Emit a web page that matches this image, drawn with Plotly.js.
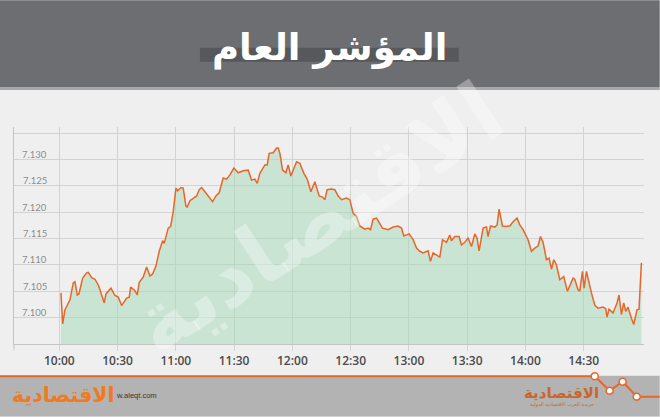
<!DOCTYPE html>
<html><head><meta charset="utf-8">
<script src="https://cdn.plot.ly/plotly-3.0.1.min.js"></script>
<style>html,body{margin:0;padding:0;background:#efefef;}#chart{width:660px;height:417px;}</style>
</head><body><div id="chart"></div>
<script>
// minutes after 10:00
const timeMinutes = [
0.87,1.75,2.93,5.51,7.20,8.08,9.26,10.14,12.04,14.10,
14.92,16.67,18.37,20.07,20.94,23.16,24.03,26.60,28.66,30.36,
32.11,34.68,36.02,36.74,38.95,40.14,41.17,43.22,44.97,46.67,
48.06,49.76,51.46,53.21,54.03,56.09,57.33,58.66,60.05,60.93,
62.62,63.81,65.20,65.87,67.26,68.95,70.70,72.04,
73.28,74.98,77.19,78.94,80.64,82.33,84.39,86.14,87.84,89.90,
92.11,94.68,97.26,99.01,100.70,101.89,103.28,105.85,107.03,108.06,
110.12,111.87,112.69,113.57,114.96,116.65,117.84,119.23,120.41,122.16,
123.86,125.92,127.62,129.52,131.58,133.79,135.54,136.73,137.91,140.17,
141.87,143.57,145.32,147.89,149.59,151.29,153.04,154.74,157.31,159.01,
160.24,161.58,163.33,165.03,166.42,169.30,171.87,174.44,176.19,
177.38,178.77,180.11,182.16,183.91,185.61,187.31,189.88,191.11,192.45,
194.20,195.90,197.29,199.35,201.05,201.92,203.62,205.83,207.07,208.77,
210.47,212.22,213.92,215.10,216.13,218.19,219.94,220.76,222.00,224.21,
225.39,226.42,228.17,229.87,231.93,233.62,235.68,237.07,238.77,241.34,
243.09,244.79,246.49,247.72,249.06,250.81,252.15,253.38,254.57,255.96,
257.66,259.71,261.62,264.50,265.38,267.07,267.95,269.34,270.16,271.40,
273.97,275.67,277.37,279.94,281.33,281.99,283.02,285.08,287.14,288.17,
289.40,290.59,291.62,292.80,294.55,295.73,297.43,298.46,299.69
];
const indexValues = [
7.1047,7.0988,7.1015,7.1034,7.1066,7.1068,7.1043,7.1045,7.1075,7.1085,
7.1086,7.1076,7.1073,7.1062,7.1053,7.1028,7.1045,7.1056,7.1042,7.1039,
7.1023,7.1037,7.1039,7.1058,7.1051,7.1043,7.1067,7.1077,7.1096,7.1079,
7.1083,7.1098,7.1126,7.1146,7.1141,7.1170,7.1173,7.1201,7.1246,7.1241,
7.1247,7.1246,7.1212,7.1210,7.1222,7.1227,7.1231,7.1243,
7.1247,7.1239,7.1229,7.1220,7.1231,7.1237,7.1265,7.1263,7.1271,7.1284,
7.1275,7.1279,7.1280,7.1261,7.1263,7.1255,7.1274,7.1290,7.1290,7.1312,
7.1313,7.1322,7.1322,7.1312,7.1280,7.1275,7.1290,7.1269,7.1280,7.1296,
7.1293,7.1274,7.1263,7.1239,7.1258,7.1231,7.1229,7.1224,7.1243,7.1244,
7.1243,7.1231,7.1224,7.1227,7.1224,7.1198,7.1192,7.1174,7.1168,7.1170,
7.1167,7.1187,7.1189,7.1179,7.1170,7.1167,7.1172,7.1174,7.1170,
7.1155,7.1157,7.1159,7.1148,7.1132,7.1126,7.1123,7.1127,7.1107,7.1123,
7.1119,7.1115,7.1148,7.1143,7.1157,7.1146,7.1154,7.1154,7.1138,7.1143,
7.1151,7.1135,7.1159,7.1151,7.1127,7.1170,7.1172,7.1154,7.1174,7.1172,
7.1176,7.1206,7.1174,7.1173,7.1174,7.1182,7.1189,7.1176,7.1167,7.1148,
7.1126,7.1132,7.1136,7.1154,7.1143,7.1110,7.1113,7.1092,7.1110,7.1100,
7.1072,7.1078,7.1050,7.1075,7.1073,7.1053,7.1050,7.1088,7.1056,7.1088,
7.1047,7.1024,7.1018,7.1020,7.1017,7.1001,7.1016,7.1009,7.1028,7.1043,
7.1006,7.1028,7.1012,7.1020,7.0999,7.0987,7.1015,7.1016,7.1104
];
const xTickVals = [0,30,60,90,120,150,180,210,240,270];
const xTickText = ['10:00','10:30','11:00','11:30','12:00','12:30','13:00','13:30','14:00','14:30'];
const yGridVals = [7.095,7.100,7.105,7.110,7.115,7.120,7.125,7.130,7.135];
const yLabelVals = [7.100,7.105,7.110,7.115,7.120,7.125,7.130];
const yLabelText = ['7.100','7.105','7.110','7.115','7.120','7.125','7.130'];
const titleText = 'المؤشر العام';
const brandText = 'الاقتصادية';
const siteText = 'w.aleqt.com';

// pixel geometry helpers
const L = 14, R = 644.3, T = 127, B = 344.3;
const px = x => (x - L) / (R - L);
const py = y => (B - y) / (B - T);
const ORANGE = '#e5672a';

const trace = {
  x: timeMinutes, y: indexValues, type: 'scatter', mode: 'lines',
  line: {color: ORANGE, width: 1.5},
  fill: 'tozeroy', fillcolor: 'rgba(165,218,186,0.5)',
  hoverinfo: 'skip'
};

const zig = [[0,376.6],[595,376.6],[610,391],[623,382],[637,397],[660,397]];
const zigPath = zig.map((p,i)=>(i?'L':'M')+px(p[0]).toFixed(5)+','+py(p[1]).toFixed(5)).join(' ');

const shapes = [
  {type:'rect', xref:'paper', yref:'paper', x0:px(0), x1:px(660), y0:py(87), y1:py(0), fillcolor:'#6d6e71', line:{width:0}, layer:'below'},
  {type:'rect', xref:'paper', yref:'paper', x0:px(0), x1:px(660), y0:py(90), y1:py(87), fillcolor:'#a8a8aa', line:{width:0}, layer:'below'},
  {type:'rect', xref:'paper', yref:'paper', x0:px(200), x1:px(459), y0:py(61.7), y1:py(47.7), fillcolor:'#57585b', line:{width:0}, layer:'below'},
  {type:'rect', xref:'paper', yref:'paper', x0:px(0), x1:px(660), y0:py(417), y1:py(376), fillcolor:'#b3b3b3', line:{width:0}, layer:'below'},
  {type:'path', xref:'paper', yref:'paper', path: zigPath, line:{color:ORANGE, width:2}},
  {type:'line', xref:'paper', yref:'paper', x0:0, x1:0, y0:py(350), y1:py(344), line:{color:'#c4c4c4', width:1}}
];
zig.slice(1,5).forEach(p=>{
  const r = 3.5;
  shapes.push({type:'circle', xref:'paper', yref:'paper', x0:px(p[0]-r), x1:px(p[0]+r), y0:py(p[1]+r), y1:py(p[1]-r), fillcolor:'#ffffff', line:{color:ORANGE, width:1.5}});
});

const annotations = [
  {xref:'paper', yref:'paper', x:px(318), y:py(218), text:brandText, showarrow:false, textangle:-33,
   font:{family:'DejaVu Sans', size:84, weight:'bold', color:'rgba(255,255,255,0.32)'}},
  {xref:'paper', yref:'paper', x:px(330), y:py(48), text:titleText, showarrow:false, xanchor:'center', yanchor:'middle',
   font:{family:'DejaVu Sans', size:37, weight:'bold', color:'#ffffff'}},
  {xref:'paper', yref:'paper', x:px(114), y:py(396), text:siteText, showarrow:false, xanchor:'left', yanchor:'middle',
   font:{family:'Liberation Sans', size:7.5, color:'#333333'}},
  {xref:'paper', yref:'paper', x:px(64), y:py(395), text:brandText, showarrow:false, xanchor:'center', yanchor:'middle',
   font:{family:'DejaVu Sans', size:20.5, weight:'bold', color:'#f07a1e'}},
  {xref:'paper', yref:'paper', x:px(562), y:py(393), text:brandText, showarrow:false, xanchor:'center', yanchor:'middle',
   font:{family:'DejaVu Sans', size:15, weight:'bold', color:'#c9662e'}},
  {xref:'paper', yref:'paper', x:px(562), y:py(405), text:'جريدة العرب الاقتصادية الدولية', showarrow:false, xanchor:'center', yanchor:'middle',
   font:{family:'DejaVu Sans', size:5, color:'#c9662e'}}
];
yLabelVals.forEach((v,i)=>{
  annotations.push({xref:'paper', yref:'y', x:0, y:v, xanchor:'right', yanchor:'middle', xshift:35, yshift:5,
    text:yLabelText[i], showarrow:false, font:{family:'Lato', size:9.5, color:'#8c8c8c'}});
});

const layout = {
  width:660, height:417,
  margin:{l:L, r:660-R, t:T, b:417-B, pad:0},
  paper_bgcolor:'#efefef', plot_bgcolor:'#efefef',
  showlegend:false,
  xaxis:{range:[(L-59.3)*30/58.3, (R-59.3)*30/58.3], tickmode:'array', tickvals:xTickVals, ticktext:xTickText,
    showgrid:true, gridcolor:'#d3d3d3', gridwidth:1, zeroline:false,
    showline:true, linecolor:'#c4c4c4', linewidth:1,
    ticks:'outside', ticklen:6, tickcolor:'#d3d3d3', tickwidth:1,
    tickfont:{family:'Open Sans', size:12, weight:600, color:'#4a4a4a'}, fixedrange:true},
  yaxis:{range:[7.095, 7.095 + (B-T)/5275], tickmode:'array', tickvals:yGridVals, showticklabels:false,
    showgrid:true, gridcolor:'#d3d3d3', gridwidth:1, zeroline:false,
    showline:true, linecolor:'#c4c4c4', linewidth:1, ticks:'', fixedrange:true},
  shapes: shapes,
  annotations: annotations
};
Plotly.newPlot('chart', [trace], layout, {displayModeBar:false, staticPlot:true});
</script></body></html>
